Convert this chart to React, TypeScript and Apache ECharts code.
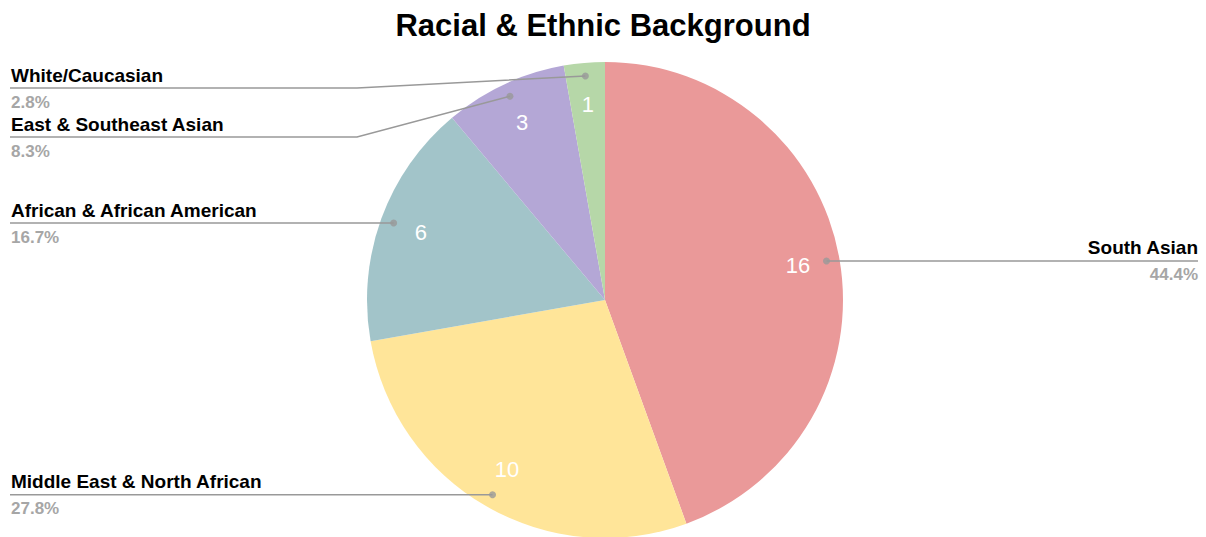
import React, { useEffect, useRef } from "react";
import * as echarts from "echarts";

const title = "Racial & Ethnic Background";
const categories = [
  "South Asian",
  "Middle East & North African",
  "African & African American",
  "East & Southeast Asian",
  "White/Caucasian",
];
const counts = [16, 10, 6, 3, 1];
const colors = ["#ea9999", "#ffe599", "#a2c4c9", "#b4a7d6", "#b6d7a8"];

const FONT = 'Arial, "Liberation Sans", Helvetica, sans-serif';
const CX = 605;
const CY = 300;
const R = 238;
const ANCHOR = 0.945;

export default function App() {
  const ref = useRef<HTMLDivElement>(null);

  useEffect(() => {
    if (!ref.current) return;
    const chart = echarts.init(ref.current, undefined, { renderer: "svg" });
    const total = counts.reduce((a, b) => a + b, 0);
    const data = categories.map((name, i) => ({
      name,
      value: counts[i],
      itemStyle: { color: colors[i] },
    }));
    const mids: number[] = [];
    let acc = 0;
    counts.forEach((c) => {
      mids.push(acc + c / 2);
      acc += c;
    });
    const anchorPoint = (i: number) => {
      const a = (mids[i] / total) * Math.PI * 2;
      return [CX + Math.sin(a) * R * ANCHOR, CY - Math.cos(a) * R * ANCHOR];
    };
    // leader-line bends for crowded labels (layout only)
    const bends: Record<number, number[]> = { 3: [357, 137], 4: [357, 88] };
    const LEFT_X = 10;
    const RIGHT_X = 1198;

    chart.setOption({
      animation: false,
      backgroundColor: "#ffffff",
      title: {
        text: title,
        left: "center",
        top: 5,
        textStyle: { fontFamily: FONT, fontSize: 31, fontWeight: "bold", color: "#000" },
      },
      polar: { center: [CX, CY], radius: R },
      angleAxis: { type: "value", min: 0, max: total, startAngle: 90, clockwise: true, show: false },
      radiusAxis: { type: "value", min: 0, max: 1, show: false },
      series: [
        {
          type: "pie",
          z: 1,
          center: [CX, CY],
          radius: R,
          startAngle: 90,
          clockwise: true,
          silent: true,
          label: { show: false },
          labelLine: { show: false },
          data,
        },
        {
          type: "pie",
          z: 3,
          center: [CX, CY],
          radius: [148, R],
          startAngle: 90,
          clockwise: true,
          silent: true,
          itemStyle: { color: "transparent" },
          label: {
            show: true,
            position: "inside",
            formatter: "{c}",
            color: "#ffffff",
            fontFamily: FONT,
            fontSize: 22,
          },
          labelLine: { show: false },
          data: categories.map((name, i) => ({ name, value: counts[i], itemStyle: { color: "transparent" } })),
        },
        {
          type: "pie",
          z: 4,
          center: [CX, CY],
          radius: R * ANCHOR,
          startAngle: 90,
          clockwise: true,
          silent: true,
          avoidLabelOverlap: false,
          itemStyle: { color: "transparent" },
          label: {
            show: true,
            position: "outer",
            formatter: (p: any) =>
              `{n|${p.name}}\n{p|${((p.value / total) * 100).toFixed(1)}%}`,
            rich: {
              n: { fontFamily: FONT, fontSize: 19, fontWeight: "bold", color: "#000", lineHeight: 28 },
              p: { fontFamily: FONT, fontSize: 17, fontWeight: "bold", color: "#a6a6a6", lineHeight: 26 },
            },
          },
          labelLine: {
            show: true,
            length: 10,
            length2: 10,
            minTurnAngle: 0,
            maxSurfaceAngle: 180,
            lineStyle: { color: "#999999", width: 1.5 },
          },
          labelLayout: (p: any) => {
            const i = p.dataIndex;
            const start = anchorPoint(i);
            const left = start[0] < CX;
            const endX = left ? LEFT_X : RIGHT_X;
            const bend = bends[i];
            const lineY = bend ? bend[1] : start[1];
            const points = bend
              ? [start, bend, [endX, lineY]]
              : [start, [(start[0] + endX) / 2, lineY], [endX, lineY]];
            return {
              x: left ? LEFT_X + 1 : RIGHT_X,
              y: lineY,
              align: left ? "left" : "right",
              verticalAlign: "middle",
              labelLinePoints: points,
            };
          },
          data: categories.map((name, i) => ({ name, value: counts[i], itemStyle: { color: "transparent" } })),
        },
        {
          type: "scatter",
          coordinateSystem: "polar",
          silent: true,
          symbol: "circle",
          symbolSize: 7,
          itemStyle: { color: "#999999" },
          z: 6,
          data: mids.map((m) => [ANCHOR, m]),
        },
      ],
    });
    return () => chart.dispose();
  }, []);

  return (
    <div
      ref={ref}
      style={{ position: "fixed", left: 0, top: 0, width: 1206, height: 537, background: "#fff" }}
    />
  );
}
